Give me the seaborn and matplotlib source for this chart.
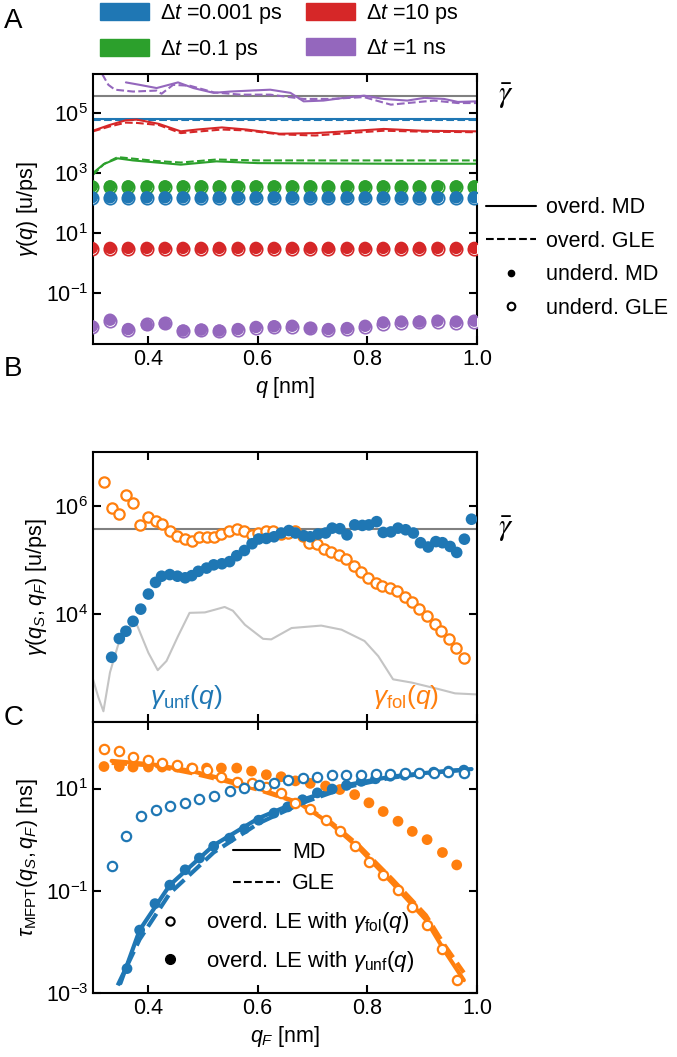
import numpy as np
import matplotlib
matplotlib.use('Agg')
import matplotlib.pyplot as plt
from matplotlib.lines import Line2D
from matplotlib.patches import Patch
import seaborn as sns

sns.set_style('ticks')
plt.rcParams['font.family'] = ['Liberation Sans', 'DejaVu Sans']
plt.rcParams['mathtext.fontset'] = 'custom'
plt.rcParams['mathtext.rm'] = 'Liberation Sans'
plt.rcParams['mathtext.it'] = 'Liberation Sans:italic'
plt.rcParams['mathtext.bf'] = 'Liberation Sans:bold'
plt.rcParams['font.size'] = 15.5
plt.rcParams['axes.linewidth'] = 1.5
for k in ['axes.edgecolor', 'xtick.color', 'ytick.color', 'text.color', 'axes.labelcolor']:
    plt.rcParams[k] = 'black'

BLUE, GREEN, RED, PURPLE, ORANGE = '#1f77b4', '#2ca02c', '#d62728', '#9467bd', '#ff7f0e'

gamma_bar = 3.7e5

# ---------------- panel A data ----------------
q_dots = [0.298, 0.331, 0.364, 0.398, 0.431, 0.464, 0.497, 0.530, 0.564, 0.597, 0.630,
          0.663, 0.696, 0.729, 0.763, 0.796, 0.829, 0.862, 0.895, 0.928, 0.962, 0.995]
green_und_md = [360, 360, 360, 360, 360, 360, 360, 360, 360, 360, 360,
                360, 360, 360, 360, 360, 360, 360, 360, 360, 360, 360]
green_und_gle = [330, 330, 330, 330, 330, 330, 330, 330, 330, 330, 330,
                 330, 330, 330, 330, 330, 330, 330, 330, 330, 330, 330]
blue_und_md = [155, 155, 155, 155, 155, 155, 155, 155, 155, 155, 155,
               155, 155, 155, 155, 155, 155, 155, 155, 155, 155, 155]
blue_und_gle = [142, 142, 142, 142, 142, 142, 142, 142, 142, 142, 142,
                142, 142, 142, 142, 142, 142, 142, 142, 142, 142, 142]
red_und_md = [3.2, 3.2, 3.2, 3.2, 3.2, 3.2, 3.2, 3.2, 3.2, 3.2, 3.2,
              3.2, 3.2, 3.2, 3.2, 3.2, 3.2, 3.2, 3.2, 3.2, 3.2, 3.2]
red_und_gle = [2.95, 2.95, 2.95, 2.95, 2.95, 2.95, 2.95, 2.95, 2.95, 2.95, 2.95,
               2.95, 2.95, 2.95, 2.95, 2.95, 2.95, 2.95, 2.95, 2.95, 2.95, 2.95]
purple_und_md = [0.0078, 0.0129, 0.0063, 0.0087, 0.0095, 0.0056, 0.0060, 0.0056, 0.0063, 0.0074, 0.0078,
                 0.0081, 0.0068, 0.0063, 0.0068, 0.0081, 0.0105, 0.0112, 0.0112, 0.0120, 0.0112, 0.0120]
purple_und_gle = [0.0071, 0.0118, 0.0057, 0.0095, 0.0104, 0.0056, 0.0060, 0.0056, 0.0057, 0.0067, 0.0071,
                  0.0074, 0.0068, 0.0057, 0.0062, 0.0074, 0.0096, 0.0102, 0.0112, 0.0109, 0.0102, 0.0109]

q_blue_line = [0.30, 0.50, 0.70, 1.00]
blue_ov_md = [6.2e4, 6.2e4, 6.2e4, 6.2e4]
blue_ov_gle = [5.8e4, 5.8e4, 5.8e4, 5.8e4]

q_red_line = [0.30, 0.33, 0.36, 0.38, 0.42, 0.46, 0.49, 0.535, 0.58, 0.64, 0.705, 0.78, 0.83, 0.90, 1.00]
red_ov_md = [25700, 39800, 57500, 60300, 43600, 24500, 28200, 33100, 28200, 20400, 21400,
             25700, 29500, 25700, 24500]
red_ov_gle = [24500, 35500, 47900, 46800, 39800, 21400, 24000, 28200, 26300, 19500, 17800,
              22400, 25700, 24000, 22900]

q_green_line = [0.30, 0.32, 0.345, 0.373, 0.416, 0.46, 0.525, 0.60, 0.72, 0.85, 1.00]
green_ov_md = [1000, 2000, 3090, 2630, 2240, 1900, 2450, 2140, 2090, 2040, 2040]
green_ov_gle = [870, 2000, 3390, 3020, 2510, 2240, 2820, 2630, 2630, 2630, 2630]

q_purple_md = [0.36, 0.385, 0.416, 0.455, 0.483, 0.52, 0.55, 0.587, 0.623, 0.66, 0.684,
               0.72, 0.757, 0.794, 0.83, 0.873, 0.904, 0.94, 0.965, 1.00]
purple_ov_md = [1.05e6, 8.7e5, 6.8e5, 1.05e6, 6.8e5, 4.7e5, 5.2e5, 5.6e5, 6.0e5, 4.7e5, 2.45e5,
                2.6e5, 3.2e5, 3.8e5, 2.95e5, 2.6e5, 3.2e5, 2.95e5, 2.35e5, 2.45e5]
q_purple_gle = [0.305, 0.316, 0.328, 0.34, 0.373, 0.416, 0.425, 0.446, 0.477, 0.52, 0.569,
                0.623, 0.684, 0.733, 0.794, 0.843, 0.879, 0.922, 0.965, 1.00]
purple_ov_gle = [4.0e6, 2.1e6, 8.7e5, 6.0e5, 5.2e5, 5.6e5, 4.4e5, 8.7e5, 8.1e5, 4.9e5, 4.1e5,
                 4.1e5, 2.95e5, 2.95e5, 3.4e5, 1.9e5, 2.2e5, 2.6e5, 2.15e5, 2.15e5]

dt_labels = [r'$\Delta t$ =0.001 ps', r'$\Delta t$ =0.1 ps', r'$\Delta t$ =10 ps', r'$\Delta t$ =1 ns']

# ---------------- panel B data ----------------
q_unf = [0.334, 0.348, 0.360, 0.373, 0.387, 0.401, 0.414, 0.425, 0.440, 0.454, 0.468, 0.480, 0.492,
         0.507, 0.520, 0.535, 0.549, 0.562, 0.576, 0.590, 0.602, 0.616, 0.630, 0.643, 0.657, 0.669,
         0.684, 0.696, 0.710, 0.724, 0.736, 0.750, 0.763, 0.777, 0.791, 0.803, 0.817, 0.829, 0.843,
         0.856, 0.870, 0.884, 0.897, 0.911, 0.925, 0.937, 0.951, 0.963, 0.977, 0.990]
gamma_unf = [1580, 3510, 4790, 7330, 12300, 23400, 38500, 50100, 53700, 50100, 46800, 51300, 61700,
             70800, 81300, 85100, 93300, 120000, 150000, 200000, 245000, 251000, 269000, 316000,
             351000, 316000, 282000, 269000, 302000, 316000, 389000, 380000, 292000, 447000, 437000,
             447000, 513000, 324000, 331000, 389000, 363000, 316000, 209000, 174000, 219000, 209000,
             178000, 138000, 243000, 569000]
q_fol = [0.320, 0.334, 0.348, 0.361, 0.373, 0.386, 0.400, 0.414, 0.426, 0.440, 0.453, 0.467, 0.481,
         0.494, 0.507, 0.520, 0.534, 0.548, 0.562, 0.575, 0.589, 0.601, 0.615, 0.629, 0.642, 0.656,
         0.668, 0.682, 0.694, 0.708, 0.722, 0.734, 0.748, 0.761, 0.775, 0.789, 0.801, 0.815, 0.827,
         0.841, 0.854, 0.868, 0.882, 0.895, 0.909, 0.923, 0.935, 0.949, 0.962, 0.976]
gamma_fol = [2.82e6, 9.1e5, 7.1e5, 1.58e6, 1.12e6, 4.47e5, 6.17e5, 5.37e5, 4.68e5, 3.39e5, 2.82e5,
             2.45e5, 2.29e5, 2.63e5, 2.63e5, 2.63e5, 3.02e5, 3.51e5, 3.72e5, 3.39e5, 2.92e5, 3.16e5,
             3.39e5, 3.39e5, 3.02e5, 3.16e5, 3.39e5, 2.82e5, 2.09e5, 2.0e5, 1.58e5, 1.38e5, 1.26e5,
             1.05e5, 7.76e4, 5.89e4, 4.68e4, 3.72e4, 3.24e4, 3.02e4, 2.63e4, 2.09e4, 1.64e4, 1.23e4,
             9330, 6610, 4790, 3390, 2370, 1550]
q_gray = [0.300, 0.310, 0.319, 0.331, 0.347, 0.364, 0.380, 0.401, 0.418, 0.434, 0.455, 0.476, 0.504,
          0.522, 0.540, 0.555, 0.577, 0.610, 0.625, 0.662, 0.716, 0.753, 0.795, 0.820, 0.847, 0.881,
          0.930, 0.960, 1.000]
gray_curve = [617, 282, 158, 832, 2950, 5620, 6310, 1910, 912, 1350, 3890, 10500, 10700, 12000, 13500,
              11500, 6310, 3470, 3390, 5500, 6100, 5130, 3160, 1660, 617, 537, 407, 339, 324]

# ---------------- panel C data ----------------
q_c_orange = [0.320, 0.348, 0.373, 0.401, 0.426, 0.453, 0.480, 0.507, 0.534, 0.562, 0.589, 0.616, 0.643,
              0.669, 0.696, 0.724, 0.750, 0.777, 0.803, 0.829, 0.856, 0.882, 0.909, 0.937, 0.963]
tau_orange_fol = [60.3, 53.7, 41.7, 36.3, 30.9, 28.2, 25.7, 22.9, 17.0, 13.2, 12.9, 10.5, 8.2, 5.25,
                  3.89, 2.45, 1.45, 0.74, 0.37, 0.204, 0.105, 0.049, 0.0214, 0.0074, 0.0018]
tau_orange_unf = [26.9, 26.9, 26.3, 26.3, 26.3, 26.3, 25.1, 25.1, 25.1, 25.1, 21.9, 18.6, 17.0, 14.1,
                  12.6, 11.2, 9.55, 7.59, 5.25, 3.55, 2.29, 1.45, 1.0, 0.56, 0.32]
q_c_orange_line = [0.334, 0.41, 0.48, 0.54, 0.60, 0.675, 0.736, 0.785, 0.846, 0.907, 0.94, 0.976]
tau_orange_md = [34.7, 29.5, 21.9, 15.1, 10.2, 5.25, 1.95, 0.68, 0.141, 0.0269, 0.0069, 0.00178]
tau_orange_gle = [31.6, 28.2, 20.0, 14.1, 9.55, 5.25, 2.09, 0.76, 0.166, 0.0331, 0.0089, 0.0025]

q_c_blue_open = [0.334, 0.361, 0.387, 0.414, 0.440, 0.468, 0.494, 0.520, 0.549, 0.576, 0.602, 0.630,
                 0.655, 0.682, 0.709, 0.736, 0.762, 0.789, 0.815, 0.842, 0.868, 0.895, 0.921, 0.948, 0.976]
tau_blue_fol = [0.309, 1.19, 2.95, 3.72, 4.47, 5.25, 6.31, 7.24, 8.91, 10.2, 11.5, 12.9, 14.5, 16.2,
                17.0, 18.2, 18.6, 18.6, 19.5, 19.5, 20.4, 20.4, 20.4, 20.9, 20.4]
q_c_blue_fill = [0.362, 0.385, 0.413, 0.440, 0.468, 0.494, 0.520, 0.549, 0.576, 0.602, 0.630, 0.655,
                 0.682, 0.709, 0.736, 0.762, 0.789, 0.815, 0.842, 0.868, 0.895, 0.921, 0.948, 0.976]
tau_blue_unf = [0.0030, 0.017, 0.056, 0.129, 0.257, 0.437, 0.741, 1.07, 1.62, 2.40, 3.31, 4.37, 6.03,
                8.22, 9.77, 11.5, 13.8, 15.5, 17.4, 18.2, 19.5, 20.9, 21.9, 22.9]
q_c_blue_line = [0.350, 0.385, 0.44, 0.52, 0.602, 0.682, 0.763, 0.842, 0.92, 0.99]
tau_blue_md = [0.00155, 0.017, 0.129, 0.776, 2.63, 6.03, 11.7, 17.0, 20.9, 24.0]
q_c_blue_line_gle = [0.345, 0.385, 0.44, 0.52, 0.602, 0.682, 0.763, 0.842, 0.92, 0.99]
tau_blue_gle = [0.00141, 0.0112, 0.089, 0.562, 2.09, 5.25, 10.7, 16.2, 20.4, 24.0]

xticks = [0.4, 0.6, 0.8, 1.0]


def style_axis(ax, yticks):
    ax.set_yscale('log')
    ax.set_xlim(0.3, 1.0)
    ax.set_xticks(xticks)
    ax.set_yticks(yticks)
    ax.minorticks_off()
    ax.tick_params(direction='in', top=True, right=True, length=6, width=1.5, labelsize=15.5,
                   color='black', labelcolor='black')
    for s in ax.spines.values():
        s.set_linewidth(1.5)
        s.set_color('black')
        s.set_visible(True)


def line(ax, x, y, color, ls='-', lw=1.5, z=2):
    sns.lineplot(x=x, y=y, ax=ax, color=color, linestyle=ls, linewidth=lw,
                 estimator=None, sort=False, zorder=z, legend=False)


def dots(ax, x, y, color, s, open_=False, lw=1.5, z=3):
    if open_:
        sns.scatterplot(x=x, y=y, ax=ax, color=color, facecolor='white', edgecolor=color,
                        s=s, linewidth=lw, zorder=z, legend=False)
    else:
        sns.scatterplot(x=x, y=y, ax=ax, color=color, edgecolor='none', s=s,
                        linewidth=0, zorder=z, legend=False)


fig = plt.figure(figsize=(6.77, 10.57), dpi=100)
L, W = 93 / 677, 384 / 677
axA = fig.add_axes([L, 1 - 344 / 1057, W, 270 / 1057])
axB = fig.add_axes([L, 1 - 722 / 1057, W, 270 / 1057])
axC = fig.add_axes([L, 1 - 993 / 1057, W, 271 / 1057], sharex=axB)

# ---------------- A ----------------
axA.axhline(gamma_bar, color='grey', lw=1.5, zorder=1)
line(axA, q_blue_line, blue_ov_md, BLUE)
line(axA, q_blue_line, blue_ov_gle, BLUE, '--')
line(axA, q_red_line, red_ov_md, RED)
line(axA, q_red_line, red_ov_gle, RED, '--')
line(axA, q_green_line, green_ov_md, GREEN)
line(axA, q_green_line, green_ov_gle, GREEN, '--')
line(axA, q_purple_md, purple_ov_md, PURPLE)
line(axA, q_purple_gle, purple_ov_gle, PURPLE, '--')
for c, gle, md in [(GREEN, green_und_gle, green_und_md), (BLUE, blue_und_gle, blue_und_md),
                   (RED, red_und_gle, red_und_md), (PURPLE, purple_und_gle, purple_und_md)]:
    dots(axA, q_dots, gle, c, 80, open_=True, lw=1.2, z=3)
    dots(axA, q_dots, md, c, 80, z=4)
style_axis(axA, [1e-1, 1e1, 1e3, 1e5])
axA.set_ylim(2e-3, 2e6)
axA.set_xlabel(r'$q$ [nm]')
axA.set_ylabel(r'$\gamma(q)$ [u/ps]')
axA.text(1.055, gamma_bar, r'$\bar{\gamma}$', transform=axA.get_yaxis_transform(),
         fontsize=22, va='center', ha='left', math_fontfamily='stix')

top_handles = [Patch(color=BLUE), Patch(color=GREEN), Patch(color=RED), Patch(color=PURPLE)]
fig.legend(top_handles, dt_labels, loc='center left', bbox_to_anchor=(100 / 677, 1 - 32 / 1057),
           ncol=2, frameon=False, borderpad=0, borderaxespad=0, handlelength=2.28,
           handleheight=0.8, handletextpad=0.5, columnspacing=1.1, labelspacing=0.55, fontsize=15.5)

right_handles = [Line2D([], [], color='k', lw=1.5),
                 Line2D([], [], color='k', lw=1.5, ls='--'),
                 Line2D([], [], color='k', ls='none', marker='o', ms=4.5),
                 Line2D([], [], color='k', ls='none', marker='o', ms=5.5, mfc='white', mew=1.5)]
fig.legend(right_handles, ['overd. MD', 'overd. GLE', 'underd. MD', 'underd. GLE'],
           loc='center left', bbox_to_anchor=(486 / 677, 1 - 258 / 1057), frameon=False,
           borderpad=0, borderaxespad=0, handlelength=2.3, handletextpad=0.47,
           labelspacing=0.58, fontsize=15.5)

# ---------------- B ----------------
axB.axhline(gamma_bar, color='grey', lw=1.5, zorder=1)
line(axB, q_gray, gray_curve, '#c4c4c4', lw=1.5, z=1)
dots(axB, q_fol, gamma_fol, ORANGE, 55, open_=True, lw=1.6, z=3)
dots(axB, q_unf, gamma_unf, BLUE, 70, z=4)
style_axis(axB, [1e4, 1e6])
axB.set_ylim(1e2, 1e7)
axB.tick_params(labelbottom=False)
axB.set_ylabel(r'$\gamma(q_S, q_F)$ [u/ps]')
axB.text(1.055, gamma_bar, r'$\bar{\gamma}$', transform=axB.get_yaxis_transform(),
         fontsize=22, va='center', ha='left', math_fontfamily='stix')
axB.text(0.148, 0.04, r'$\gamma_\mathrm{unf}(q)$', transform=axB.transAxes, color=BLUE,
         fontsize=19, ha='left', va='bottom')
axB.text(0.73, 0.04, r'$\gamma_\mathrm{fol}(q)$', transform=axB.transAxes, color=ORANGE,
         fontsize=19, ha='left', va='bottom')

# ---------------- C ----------------
line(axC, q_c_orange_line, tau_orange_md, ORANGE, lw=3, z=2)
line(axC, q_c_orange_line, tau_orange_gle, ORANGE, '--', lw=3, z=2)
line(axC, q_c_blue_line, tau_blue_md, BLUE, lw=3, z=2)
line(axC, q_c_blue_line_gle, tau_blue_gle, BLUE, '--', lw=3, z=2)
dots(axC, q_c_orange, tau_orange_unf, ORANGE, 60, z=3)
dots(axC, q_c_orange, tau_orange_fol, ORANGE, 45, open_=True, lw=1.6, z=4)
dots(axC, q_c_blue_fill, tau_blue_unf, BLUE, 60, z=3)
dots(axC, q_c_blue_open, tau_blue_fol, BLUE, 45, open_=True, lw=1.6, z=4)
style_axis(axC, [1e-3, 1e-1, 1e1])
axC.set_ylim(1e-3, 2e2)
axC.set_xlabel(r'$q_F$ [nm]')
axC.set_ylabel(r'$\tau_\mathrm{MFPT}(q_S, q_F)$ [ns]')

leg1 = axC.legend([Line2D([], [], color='k', lw=1.5), Line2D([], [], color='k', lw=1.5, ls='--')],
                  ['MD', 'GLE'], loc='center left', bbox_to_anchor=(233 / 677, 1 - 868 / 1057),
                  bbox_transform=fig.transFigure, frameon=False, borderpad=0, borderaxespad=0,
                  handlelength=2.2, handletextpad=0.55, labelspacing=0.5, fontsize=15.5)
axC.add_artist(leg1)
axC.legend([Line2D([], [], color='k', ls='none', marker='o', ms=6, mfc='white', mew=1.5),
            Line2D([], [], color='k', ls='none', marker='o', ms=7)],
           [r'overd. LE with $\gamma_\mathrm{fol}(q)$', r'overd. LE with $\gamma_\mathrm{unf}(q)$'],
           loc='center left', bbox_to_anchor=(148 / 677, 1 - 942 / 1057),
           bbox_transform=fig.transFigure, frameon=False, borderpad=0, borderaxespad=0,
           handlelength=2.0, handletextpad=0.6, labelspacing=0.6, fontsize=16)

for lab, y in [('A', 0.992), ('B', 0.663), ('C', 0.333)]:
    fig.text(0.006, y, lab, fontsize=20, va='top', ha='left')

fig.savefig('out.png', dpi=100)
